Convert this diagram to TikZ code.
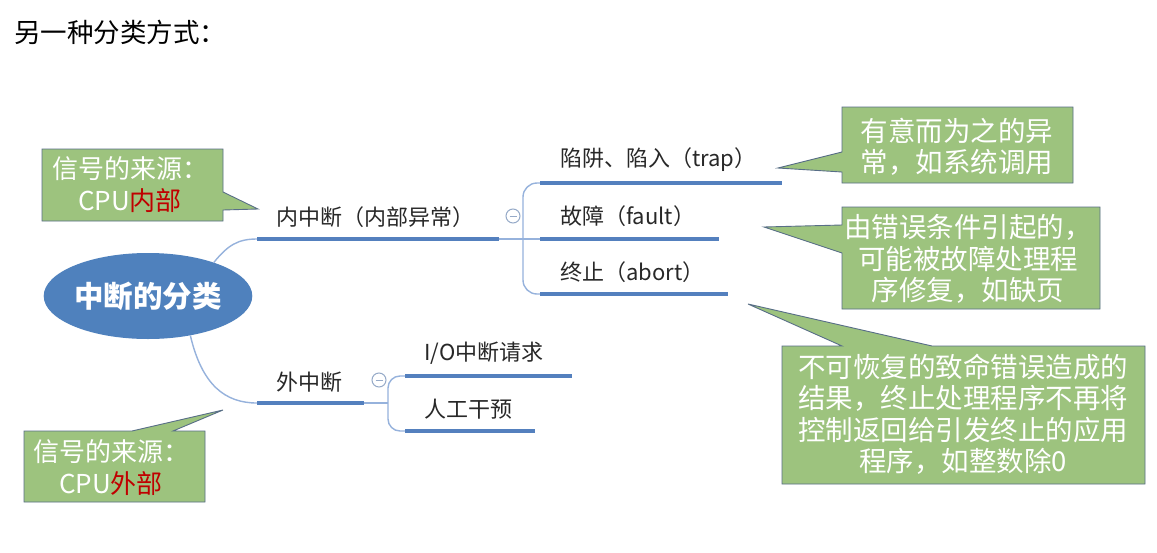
\documentclass[tikz,border=0pt]{standalone}
\usepackage{fontspec}
\setmainfont{Noto Sans CJK SC}
\usetikzlibrary{shapes.geometric}
\definecolor{rootblue}{RGB}{79,129,189}
\definecolor{linkblue}{RGB}{84,128,190}
\definecolor{thinblue}{RGB}{150,178,220}
\definecolor{calgreen}{RGB}{157,195,126}
\definecolor{calborder}{RGB}{88,110,135}
\definecolor{darkred}{RGB}{192,0,0}
\definecolor{circgray}{RGB}{150,170,200}
\definecolor{lbltext}{RGB}{40,40,40}
\tikzset{
  under/.style={draw=linkblue, line width=4pt},
  thinlink/.style={draw=thinblue, line width=1.4pt},
  lbl/.style={anchor=west, inner sep=0pt, text=lbltext, font=\fontsize{22}{26}\selectfont},
  callbox/.style={fill=calgreen, draw=calborder, line width=0.9pt, line join=miter},
  caltextL/.style={inner sep=0pt, align=center, text=white, font=\fontsize{26}{32}\selectfont},
  caltextR/.style={inner sep=0pt, align=center, text=white, font=\fontsize{27.5}{31.5}\selectfont},
  collapse/.style={circle, draw=circgray, line width=1pt, minimum size=14pt, inner sep=0pt}
}
\begin{document}
\begin{tikzpicture}[x=1pt,y=-1pt]
\fill[white] (0,0) rectangle (1157,552);
\useasboundingbox (0,0) rectangle (1157,552);

% title
\node[anchor=west, inner sep=0pt, font=\fontsize{26.5}{30}\selectfont] (title) at (14,32) {另一种分类方式：};

% root
\node[ellipse, fill=rootblue, minimum width=200pt, minimum height=86pt, inner sep=0pt,
      text=white, font=\bfseries\fontsize{29.5}{33}\selectfont] (root) at (148,296) {中断的分类};

% ---- inner interrupt branch
\coordinate (ins) at (257,239);
\coordinate (ine) at (499,239);
\node[lbl] (inlbl) at (276,217) {内中断（内部异常）};
\draw[thinlink] (root.27) .. controls (228,245) and (238,239) .. (ins);
\draw[under] (ins) -- (ine);
\node[collapse] (c1) at (513,216) {};
\draw[circgray, line width=1pt] ([xshift=-3.5pt]c1.center) -- ([xshift=3.5pt]c1.center);

\coordinate (traps) at (540,183);
\coordinate (trape) at (782,183);
\coordinate (faults) at (540,239);
\coordinate (faulte) at (719,239);
\coordinate (aborts) at (540,294);
\coordinate (aborte) at (728,294);
\draw[thinlink] (ine) -- (faults);
\draw[thinlink, rounded corners=14pt] (traps) -- (523,183) -- (523,294) -- (aborts);
\draw[under] (traps) -- (trape);
\draw[under] (faults) -- (faulte);
\draw[under] (aborts) -- (aborte);
\node[lbl] (traplbl) at (560,160) {陷阱、陷入（trap）};
\node[lbl] (faultlbl) at (560,216) {故障（fault）};
\node[lbl] (abortlbl) at (560,272) {终止（abort）};

% ---- external interrupt branch
\coordinate (exs) at (257,403);
\coordinate (exe) at (364,403);
\node[lbl] (exlbl) at (276,382) {外中断};
\draw[thinlink] (root.-43) .. controls (202,385) and (225,403) .. (exs);
\draw[under] (exs) -- (exe);
\node[collapse] (c2) at (379,380) {};
\draw[circgray, line width=1pt] ([xshift=-3.5pt]c2.center) -- ([xshift=3.5pt]c2.center);

\coordinate (ios) at (405,376);
\coordinate (ioe) at (572,376);
\coordinate (mans) at (405,431);
\coordinate (mane) at (535,431);
\draw[thinlink] (exe) -- (388,403);
\draw[thinlink, rounded corners=12pt] (ios) -- (388,376) -- (388,431) -- (mans);
\draw[under] (ios) -- (ioe);
\draw[under] (mans) -- (mane);
\node[lbl] (iolbl) at (424,353) {I/O中断请求};
\node[lbl] (manlbl) at (424,409) {人工干预};

% ---- callouts
% left top
\path[callbox] (42,149) -- (223,149) -- (223,192) -- (258,209) -- (223,210) -- (223,221) -- (42,221) -- cycle;
\node[caltextL] (srcin) at (130,185) {信号的来源：\\CPU\textcolor{darkred}{内部}};

% left bottom
\path[callbox] (24,431) -- (132,431) -- (223,410) -- (173,431) -- (205,431) -- (205,502) -- (24,502) -- cycle;
\node[caltextL] (srcex) at (111,468) {信号的来源：\\CPU\textcolor{darkred}{外部}};

% right: trap
\path[callbox] (842,107) -- (1073,107) -- (1073,183) -- (842,183) -- (842,172) -- (778,168) -- (842,152) -- cycle;
\node[caltextR] (traptxt) at (957,147) {有意而为之的异\\常，如系统调用};

% right: fault
\path[callbox] (842,207) -- (1100,207) -- (1100,309) -- (842,309) -- (842,253) -- (764,227) -- (842,225) -- cycle;
\node[caltextR] (faulttxt) at (968,259) {由错误条件引起的，\\可能被故障处理程\\序修复，如缺页};

% right: abort
\path[callbox] (782,346) -- (842,346) -- (748,304) -- (932,346) -- (1145,346) -- (1145,484) -- (782,484) -- cycle;
\node[caltextR] (aborttxt) at (963,414) {不可恢复的致命错误造成的\\结果，终止处理程序不再将\\控制返回给引发终止的应用\\程序，如整数除0};
\end{tikzpicture}
\end{document}
